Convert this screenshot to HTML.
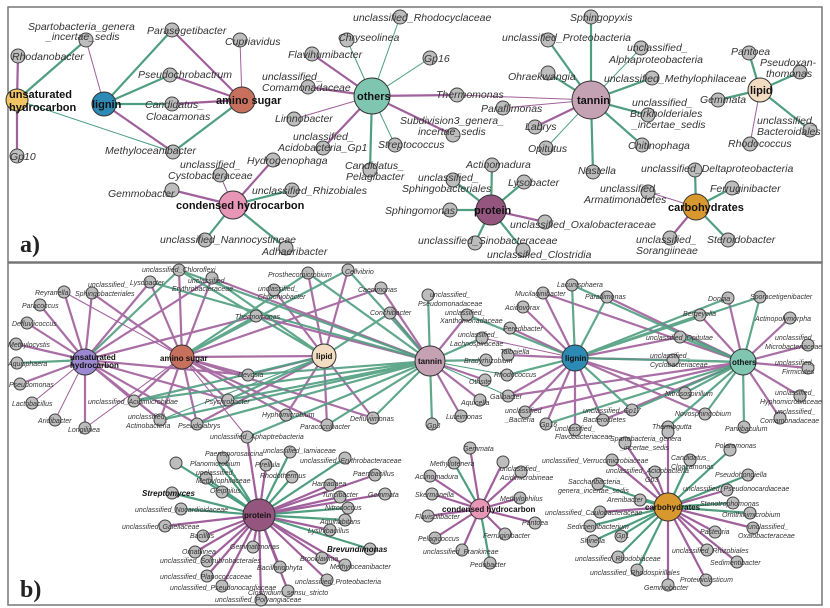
<!DOCTYPE html>
<html><head><meta charset="utf-8"><style>
body{margin:0;background:#fff;width:830px;height:608px;overflow:hidden}
svg{display:block}
.t{font-family:"Liberation Sans",sans-serif;font-style:italic;fill:#333}
.a{font-size:10.5px}.b{font-size:7px}
.h{font-family:"Liberation Sans",sans-serif;font-weight:bold;fill:#111}
.G{stroke:#4f9e80}.P{stroke:#a0609c}
.w1{stroke-width:1}.w2{stroke-width:2.2}
.n circle{fill:#bdbdbd;stroke:#444;stroke-width:1}
</style></head><body>
<svg width="830" height="608" viewBox="0 0 830 608">
<rect x="8" y="7" width="814" height="255" fill="none" stroke="#777" stroke-width="1.5"/>
<rect x="8" y="263" width="814" height="342" fill="none" stroke="#777" stroke-width="1.5"/>

<!-- PANEL A edges -->
<g class="P w2">
<line x1="17" y1="100" x2="18" y2="56"/><line x1="17" y1="100" x2="17" y2="156"/>
<line x1="104" y1="104" x2="173" y2="152"/>
<line x1="242" y1="100" x2="172" y2="30"/><line x1="242" y1="100" x2="170" y2="75"/><line x1="242" y1="100" x2="172" y2="104"/>
<line x1="372" y1="96" x2="312" y2="54"/><line x1="372" y1="96" x2="308" y2="87"/><line x1="372" y1="96" x2="323" y2="148"/><line x1="372" y1="96" x2="457" y2="95"/><line x1="372" y1="96" x2="453" y2="135"/>
<line x1="591" y1="100" x2="535" y2="127"/>
<line x1="233" y1="205" x2="273" y2="160"/><line x1="233" y1="205" x2="172" y2="190"/>
<line x1="491" y1="210" x2="545" y2="222"/><line x1="696" y1="207" x2="670" y2="238"/>
</g>
<g class="P w1">
<line x1="104" y1="104" x2="86" y2="40"/><line x1="242" y1="100" x2="240" y2="40"/>
<line x1="372" y1="96" x2="294" y2="119"/><line x1="591" y1="100" x2="457" y2="95"/><line x1="591" y1="100" x2="503" y2="108"/>
<line x1="760" y1="90" x2="750" y2="144"/><line x1="233" y1="205" x2="220" y2="175"/><line x1="696" y1="207" x2="648" y2="192"/>
</g>
<g class="G w2">
<line x1="17" y1="100" x2="86" y2="40"/>
<line x1="104" y1="104" x2="172" y2="30"/><line x1="104" y1="104" x2="170" y2="75"/><line x1="104" y1="104" x2="172" y2="104"/>
<line x1="242" y1="100" x2="173" y2="152"/>
<line x1="372" y1="96" x2="370" y2="170"/>
<line x1="591" y1="100" x2="591" y2="17"/><line x1="591" y1="100" x2="548" y2="40"/><line x1="591" y1="100" x2="548" y2="73"/><line x1="591" y1="100" x2="652" y2="78"/><line x1="591" y1="100" x2="593" y2="172"/><line x1="591" y1="100" x2="648" y2="115"/><line x1="591" y1="100" x2="642" y2="145"/>
<line x1="760" y1="90" x2="749" y2="53"/><line x1="760" y1="90" x2="800" y2="72"/><line x1="760" y1="90" x2="718" y2="100"/><line x1="760" y1="90" x2="810" y2="130"/>
<line x1="233" y1="205" x2="292" y2="190"/><line x1="233" y1="205" x2="205" y2="240"/><line x1="233" y1="205" x2="286" y2="248"/>
<line x1="491" y1="210" x2="492" y2="165"/><line x1="491" y1="210" x2="453" y2="180"/><line x1="491" y1="210" x2="524" y2="182"/><line x1="491" y1="210" x2="450" y2="210"/><line x1="491" y1="210" x2="475" y2="243"/><line x1="491" y1="210" x2="523" y2="250"/>
<line x1="696" y1="207" x2="695" y2="170"/><line x1="696" y1="207" x2="732" y2="188"/><line x1="696" y1="207" x2="728" y2="240"/>
</g>
<g class="G w1">
<line x1="17" y1="100" x2="173" y2="152"/>
<line x1="372" y1="96" x2="347" y2="40"/><line x1="372" y1="96" x2="400" y2="17"/><line x1="372" y1="96" x2="395" y2="145"/><line x1="372" y1="96" x2="430" y2="58"/>
<line x1="591" y1="100" x2="641" y2="48"/><line x1="591" y1="100" x2="546" y2="148"/>
</g>
<!-- PANEL A small nodes -->
<g class="n">
<circle cx="86" cy="40" r="7"/><circle cx="18" cy="56" r="7"/><circle cx="172" cy="30" r="7"/><circle cx="240" cy="40" r="7"/><circle cx="170" cy="75" r="7"/><circle cx="172" cy="104" r="7"/><circle cx="173" cy="152" r="7"/><circle cx="17" cy="156" r="7"/>
<circle cx="312" cy="54" r="7"/><circle cx="347" cy="40" r="7"/><circle cx="400" cy="17" r="7"/><circle cx="308" cy="87" r="7"/><circle cx="294" cy="119" r="7"/><circle cx="323" cy="148" r="7"/><circle cx="395" cy="145" r="7"/><circle cx="370" cy="170" r="7"/><circle cx="430" cy="58" r="7"/><circle cx="457" cy="95" r="7"/><circle cx="453" cy="135" r="7"/>
<circle cx="273" cy="160" r="7"/><circle cx="220" cy="175" r="7"/><circle cx="172" cy="190" r="7"/><circle cx="292" cy="190" r="7"/><circle cx="205" cy="240" r="7"/><circle cx="286" cy="248" r="7"/>
<circle cx="591" cy="17" r="7"/><circle cx="548" cy="40" r="7"/><circle cx="641" cy="48" r="7"/><circle cx="548" cy="73" r="7"/><circle cx="652" cy="78" r="7"/><circle cx="503" cy="108" r="7"/><circle cx="535" cy="127" r="7"/><circle cx="546" cy="148" r="7"/><circle cx="593" cy="172" r="7"/><circle cx="648" cy="115" r="7"/><circle cx="642" cy="145" r="7"/>
<circle cx="749" cy="53" r="7"/><circle cx="800" cy="72" r="7"/><circle cx="718" cy="100" r="7"/><circle cx="810" cy="130" r="7"/><circle cx="750" cy="144" r="7"/>
<circle cx="695" cy="170" r="7"/><circle cx="732" cy="188" r="7"/><circle cx="648" cy="192" r="7"/><circle cx="728" cy="240" r="7"/><circle cx="670" cy="238" r="7"/>
<circle cx="492" cy="165" r="7"/><circle cx="453" cy="180" r="7"/><circle cx="524" cy="182" r="7"/><circle cx="450" cy="210" r="7"/><circle cx="545" cy="222" r="7"/><circle cx="475" cy="243" r="7"/><circle cx="523" cy="250" r="7"/>
</g>
<!-- PANEL A hubs -->
<g stroke="#333" stroke-width="1">
<circle cx="17" cy="100" r="11" fill="#f0c462"/><circle cx="104" cy="104" r="12" fill="#2c8ab4"/><circle cx="242" cy="100" r="13" fill="#c8705e"/><circle cx="372" cy="96" r="18" fill="#7fc5b0"/><circle cx="233" cy="205" r="14" fill="#e896b6"/><circle cx="591" cy="100" r="19" fill="#c4a2b4"/><circle cx="760" cy="90" r="12" fill="#f2dcc2"/><circle cx="491" cy="210" r="15" fill="#94567f"/><circle cx="696" cy="207" r="13" fill="#d8982e"/>
</g>
<g class="t a">
<text x="28" y="30">Spartobacteria_genera</text><text x="46" y="40">_incertae_sedis</text>
<text x="12" y="60">Rhodanobacter</text><text x="147" y="34">Parasegetibacter</text><text x="225" y="45">Cupriavidus</text>
<text x="138" y="78">Pseudochrobactrum</text><text x="145" y="108">Candidatus_</text><text x="146" y="120">Cloacamonas</text>
<text x="105" y="154">Methyloceanibacter</text><text x="10" y="160">Gp10</text>
<text x="288" y="58">Flavihumibacter</text><text x="338" y="41">Chryseolinea</text><text x="353" y="21">unclassified_Rhodocyclaceae</text>
<text x="262" y="80">unclassified_</text><text x="262" y="91">Comamonadaceae</text><text x="275" y="122">Limnobacter</text>
<text x="293" y="140">unclassified_</text><text x="278" y="151">Acidobacteria_Gp1</text><text x="378" y="148">Streptococcus</text>
<text x="345" y="169">Candidatus_</text><text x="346" y="180">Pelagibacter</text><text x="424" y="62">Gp16</text>
<text x="436" y="98">Thermomonas</text><text x="481" y="112">Paraflimonas</text><text x="400" y="124">Subdivision3_genera_</text><text x="418" y="135">incertae_sedis</text>
<text x="247" y="164">Hydrogenophaga</text><text x="180" y="168">unclassified_</text><text x="168" y="179">Cystobacteraceae</text>
<text x="108" y="197">Gemmobacter</text><text x="252" y="194">unclassified_Rhizobiales</text><text x="160" y="243">unclassified_Nannocystineae</text><text x="262" y="255">Adhaeribacter</text>
<text x="570" y="21">Sphingopyxis</text><text x="502" y="41">unclassified_Proteobacteria</text><text x="627" y="51">unclassified_</text><text x="609" y="63">Alphaproteobacteria</text>
<text x="508" y="80">Ohraekwangia</text><text x="604" y="82">unclassified_Methylophilaceae</text><text x="525" y="130">Labrys</text><text x="528" y="152">Opitutus</text>
<text x="578" y="174">Nastella</text><text x="632" y="106">unclassified_</text><text x="630" y="117">Burkholderiales</text><text x="632" y="128">_incertae_sedis</text>
<text x="628" y="149">Chitinophaga</text><text x="731" y="55">Pantoea</text><text x="760" y="66">Pseudoxan-</text><text x="766" y="77">thomonas</text>
<text x="700" y="103">Gemmata</text><text x="757" y="124">unclassified_</text><text x="757" y="135">Bacteroidales</text><text x="728" y="147">Rhodococcus</text>
<text x="641" y="172">unclassified_Deltaproteobacteria</text><text x="710" y="192">Ferruginibacter</text><text x="600" y="192">unclassified_</text><text x="584" y="203">Armatimonadetes</text>
<text x="707" y="243">Steroidobacter</text><text x="636" y="243">unclassified_</text><text x="636" y="254">Sorangiineae</text>
<text x="466" y="168">Actinomadura</text><text x="418" y="181">unclassified_</text><text x="402" y="192">Sphingobacteriales</text><text x="508" y="186">Lysobacter</text>
<text x="385" y="214">Sphingomonas</text><text x="510" y="228">unclassified_Oxalobacteraceae</text><text x="418" y="244">unclassified_Sinobacteraceae</text><text x="487" y="258">unclassified_Clostridia</text>
</g>
<g class="h" font-size="11">
<text x="9" y="98">unsaturated</text><text x="9" y="111">hydrocarbon</text><text x="92" y="108">lignin</text><text x="216" y="104">amino sugar</text><text x="357" y="100">others</text>
<text x="176" y="209">condensed hydrocarbon</text><text x="577" y="104">tannin</text><text x="750" y="94">lipid</text><text x="474" y="214">protein</text><text x="668" y="211">carbohydrates</text>
</g>
<text x="20" y="252" font-family="Liberation Serif,serif" font-weight="bold" font-size="24" fill="#222">a)</text>

<!-- PANEL B edges: top clusters -->
<g class="P w2" opacity="0.9">
<line x1="85" y1="360" x2="64" y2="292"/><line x1="85" y1="360" x2="40" y2="305"/><line x1="85" y1="360" x2="27" y2="323"/><line x1="85" y1="360" x2="16" y2="344"/><line x1="85" y1="360" x2="20" y2="384"/><line x1="85" y1="360" x2="134" y2="401"/><line x1="85" y1="360" x2="160" y2="420"/><line x1="85" y1="360" x2="92" y2="293"/><line x1="85" y1="360" x2="150" y2="282"/><line x1="85" y1="360" x2="212" y2="278"/><line x1="85" y1="360" x2="256" y2="316"/><line x1="85" y1="360" x2="248" y2="375"/><line x1="85" y1="360" x2="228" y2="400"/><line x1="85" y1="360" x2="197" y2="424"/><line x1="85" y1="360" x2="85" y2="428"/>
<line x1="182" y1="357" x2="179" y2="270"/><line x1="182" y1="357" x2="150" y2="282"/><line x1="182" y1="357" x2="92" y2="293"/><line x1="182" y1="357" x2="212" y2="278"/><line x1="182" y1="357" x2="248" y2="375"/><line x1="182" y1="357" x2="228" y2="400"/><line x1="182" y1="357" x2="197" y2="424"/><line x1="182" y1="357" x2="160" y2="420"/><line x1="182" y1="357" x2="134" y2="401"/><line x1="182" y1="357" x2="286" y2="415"/><line x1="182" y1="357" x2="327" y2="425"/><line x1="182" y1="357" x2="373" y2="418"/><line x1="182" y1="357" x2="381" y2="288"/>
<line x1="324" y1="356" x2="308" y2="273"/><line x1="324" y1="356" x2="348" y2="270"/><line x1="324" y1="356" x2="274" y2="290"/><line x1="324" y1="356" x2="248" y2="375"/><line x1="324" y1="356" x2="286" y2="415"/><line x1="324" y1="356" x2="327" y2="425"/><line x1="324" y1="356" x2="373" y2="418"/><line x1="324" y1="356" x2="182" y2="357"/><line x1="324" y1="356" x2="197" y2="424"/>
<line x1="430" y1="361" x2="381" y2="288"/><line x1="430" y1="361" x2="390" y2="313"/><line x1="430" y1="361" x2="467" y2="315"/><line x1="430" y1="361" x2="485" y2="380"/><line x1="430" y1="361" x2="480" y2="400"/><line x1="430" y1="361" x2="461" y2="416"/><line x1="430" y1="361" x2="212" y2="278"/><line x1="430" y1="361" x2="256" y2="316"/>
<line x1="575" y1="358" x2="543" y2="293"/><line x1="575" y1="358" x2="523" y2="307"/><line x1="575" y1="358" x2="510" y2="328"/><line x1="575" y1="358" x2="508" y2="355"/><line x1="575" y1="358" x2="508" y2="396"/><line x1="575" y1="358" x2="525" y2="412"/><line x1="575" y1="358" x2="546" y2="424"/><line x1="575" y1="358" x2="603" y2="420"/><line x1="575" y1="358" x2="575" y2="430"/><line x1="575" y1="358" x2="680" y2="337"/><line x1="575" y1="358" x2="673" y2="360"/><line x1="575" y1="358" x2="685" y2="393"/><line x1="575" y1="358" x2="705" y2="414"/>
<line x1="743" y1="362" x2="728" y2="298"/><line x1="743" y1="362" x2="700" y2="315"/><line x1="743" y1="362" x2="790" y2="318"/><line x1="743" y1="362" x2="808" y2="345"/><line x1="743" y1="362" x2="808" y2="368"/><line x1="743" y1="362" x2="800" y2="396"/><line x1="743" y1="362" x2="780" y2="418"/><line x1="743" y1="362" x2="543" y2="293"/><line x1="743" y1="362" x2="607" y2="297"/><line x1="743" y1="362" x2="525" y2="412"/><line x1="743" y1="362" x2="508" y2="396"/><line x1="743" y1="362" x2="603" y2="420"/>
</g>
<g class="G w2" opacity="0.9">
<line x1="85" y1="360" x2="17" y2="363"/><line x1="85" y1="360" x2="179" y2="270"/>
<line x1="182" y1="357" x2="256" y2="316"/><line x1="182" y1="357" x2="308" y2="273"/><line x1="182" y1="357" x2="348" y2="270"/>
<line x1="324" y1="356" x2="179" y2="270"/><line x1="324" y1="356" x2="212" y2="278"/><line x1="324" y1="356" x2="228" y2="400"/><line x1="324" y1="356" x2="134" y2="401"/><line x1="324" y1="356" x2="390" y2="313"/>
<line x1="430" y1="361" x2="179" y2="270"/><line x1="430" y1="361" x2="150" y2="282"/><line x1="430" y1="361" x2="308" y2="273"/><line x1="430" y1="361" x2="348" y2="270"/><line x1="430" y1="361" x2="428" y2="295"/><line x1="430" y1="361" x2="482" y2="338"/><line x1="430" y1="361" x2="486" y2="360"/><line x1="430" y1="361" x2="432" y2="424"/><line x1="430" y1="361" x2="228" y2="400"/><line x1="430" y1="361" x2="134" y2="401"/><line x1="430" y1="361" x2="160" y2="420"/><line x1="430" y1="361" x2="197" y2="424"/><line x1="430" y1="361" x2="247" y2="437"/><line x1="430" y1="361" x2="373" y2="418"/><line x1="430" y1="361" x2="248" y2="375"/><line x1="430" y1="361" x2="327" y2="425"/>
<line x1="575" y1="358" x2="572" y2="285"/><line x1="575" y1="358" x2="607" y2="297"/><line x1="575" y1="358" x2="507" y2="375"/><line x1="575" y1="358" x2="632" y2="410"/><line x1="575" y1="358" x2="728" y2="298"/><line x1="575" y1="358" x2="760" y2="297"/><line x1="575" y1="358" x2="700" y2="315"/><line x1="575" y1="358" x2="467" y2="315"/><line x1="575" y1="358" x2="743" y2="362"/>
<line x1="743" y1="362" x2="760" y2="297"/><line x1="743" y1="362" x2="680" y2="337"/><line x1="743" y1="362" x2="673" y2="360"/><line x1="743" y1="362" x2="744" y2="427"/><line x1="743" y1="362" x2="685" y2="393"/><line x1="743" y1="362" x2="705" y2="414"/><line x1="743" y1="362" x2="668" y2="427"/><line x1="743" y1="362" x2="632" y2="410"/><line x1="743" y1="362" x2="546" y2="424"/><line x1="743" y1="362" x2="572" y2="285"/>
</g>
<g class="P w1">
<line x1="85" y1="360" x2="32" y2="403"/><line x1="85" y1="360" x2="55" y2="420"/><line x1="182" y1="357" x2="247" y2="437"/><line x1="182" y1="357" x2="85" y2="428"/><line x1="182" y1="357" x2="64" y2="292"/>
<line x1="575" y1="358" x2="482" y2="338"/>
</g>
<g class="G w1">
<line x1="324" y1="356" x2="160" y2="420"/><line x1="430" y1="361" x2="507" y2="375"/><line x1="430" y1="361" x2="508" y2="396"/><line x1="430" y1="361" x2="390" y2="313"/>
</g>
<!-- protein / condensed / carbo edges -->
<g class="G w2">
<line x1="259" y1="515" x2="176" y2="463"/><line x1="259" y1="515" x2="223" y2="458"/><line x1="259" y1="515" x2="218" y2="463"/><line x1="259" y1="515" x2="206" y2="478"/><line x1="259" y1="515" x2="172" y2="493"/><line x1="259" y1="515" x2="222" y2="492"/><line x1="259" y1="515" x2="181" y2="509"/><line x1="259" y1="515" x2="290" y2="452"/><line x1="259" y1="515" x2="345" y2="458"/><line x1="259" y1="515" x2="292" y2="477"/><line x1="259" y1="515" x2="348" y2="508"/><line x1="259" y1="515" x2="370" y2="549"/><line x1="259" y1="515" x2="345" y2="520"/>
<line x1="480" y1="509" x2="454" y2="463"/><line x1="480" y1="509" x2="490" y2="563"/>
<line x1="668" y1="507" x2="730" y2="450"/><line x1="668" y1="507" x2="690" y2="460"/><line x1="668" y1="507" x2="748" y2="475"/><line x1="668" y1="507" x2="598" y2="484"/><line x1="668" y1="507" x2="640" y2="500"/><line x1="668" y1="507" x2="750" y2="513"/><line x1="668" y1="507" x2="590" y2="526"/><line x1="668" y1="507" x2="593" y2="541"/><line x1="668" y1="507" x2="621" y2="536"/><line x1="668" y1="507" x2="618" y2="557"/><line x1="668" y1="507" x2="637" y2="570"/><line x1="668" y1="507" x2="733" y2="503"/>
</g>
<g class="P w2">
<line x1="259" y1="515" x2="266" y2="465"/><line x1="259" y1="515" x2="375" y2="475"/><line x1="259" y1="515" x2="330" y2="485"/><line x1="259" y1="515" x2="340" y2="497"/><line x1="259" y1="515" x2="385" y2="494"/><line x1="259" y1="515" x2="165" y2="526"/><line x1="259" y1="515" x2="203" y2="536"/><line x1="259" y1="515" x2="330" y2="530"/><line x1="259" y1="515" x2="253" y2="547"/><line x1="259" y1="515" x2="195" y2="552"/><line x1="259" y1="515" x2="207" y2="561"/><line x1="259" y1="515" x2="322" y2="558"/><line x1="259" y1="515" x2="345" y2="565"/><line x1="259" y1="515" x2="280" y2="567"/><line x1="259" y1="515" x2="207" y2="576"/><line x1="259" y1="515" x2="327" y2="580"/><line x1="259" y1="515" x2="222" y2="586"/><line x1="259" y1="515" x2="288" y2="591"/><line x1="259" y1="515" x2="261" y2="600"/><line x1="259" y1="515" x2="247" y2="437"/>
<line x1="480" y1="509" x2="470" y2="448"/><line x1="480" y1="509" x2="503" y2="462"/><line x1="480" y1="509" x2="521" y2="472"/><line x1="480" y1="509" x2="430" y2="476"/><line x1="480" y1="509" x2="520" y2="498"/><line x1="480" y1="509" x2="432" y2="494"/><line x1="480" y1="509" x2="428" y2="516"/><line x1="480" y1="509" x2="535" y2="523"/><line x1="480" y1="509" x2="435" y2="538"/><line x1="480" y1="509" x2="505" y2="534"/><line x1="480" y1="509" x2="462" y2="550"/>
<line x1="668" y1="507" x2="668" y2="432"/><line x1="668" y1="507" x2="625" y2="443"/><line x1="668" y1="507" x2="612" y2="460"/><line x1="668" y1="507" x2="655" y2="472"/><line x1="668" y1="507" x2="727" y2="490"/><line x1="668" y1="507" x2="600" y2="512"/><line x1="668" y1="507" x2="715" y2="532"/><line x1="668" y1="507" x2="753" y2="528"/><line x1="668" y1="507" x2="707" y2="550"/><line x1="668" y1="507" x2="737" y2="562"/><line x1="668" y1="507" x2="706" y2="580"/><line x1="668" y1="507" x2="668" y2="585"/>
</g>
<!-- PANEL B small nodes -->
<g class="n">
<circle cx="179" cy="270" r="6"/><circle cx="212" cy="278" r="6"/><circle cx="150" cy="282" r="6"/><circle cx="92" cy="293" r="6"/><circle cx="64" cy="292" r="6"/><circle cx="40" cy="305" r="6"/><circle cx="27" cy="323" r="6"/><circle cx="16" cy="344" r="6"/><circle cx="17" cy="363" r="6"/><circle cx="20" cy="384" r="6"/><circle cx="32" cy="403" r="6"/><circle cx="55" cy="420" r="6"/><circle cx="85" cy="428" r="6"/><circle cx="134" cy="401" r="6"/><circle cx="160" cy="420" r="6"/><circle cx="197" cy="424" r="6"/><circle cx="228" cy="400" r="6"/><circle cx="248" cy="375" r="6"/><circle cx="256" cy="316" r="6"/>
<circle cx="308" cy="273" r="6"/><circle cx="348" cy="270" r="6"/><circle cx="274" cy="290" r="6"/><circle cx="381" cy="288" r="6"/><circle cx="390" cy="313" r="6"/><circle cx="286" cy="415" r="6"/><circle cx="327" cy="425" r="6"/><circle cx="373" cy="418" r="6"/><circle cx="247" cy="437" r="6"/>
<circle cx="428" cy="295" r="6"/><circle cx="467" cy="315" r="6"/><circle cx="482" cy="338" r="6"/><circle cx="486" cy="360" r="6"/><circle cx="485" cy="380" r="6"/><circle cx="480" cy="400" r="6"/><circle cx="461" cy="416" r="6"/><circle cx="432" cy="424" r="6"/><circle cx="507" cy="375" r="6"/><circle cx="508" cy="396" r="6"/><circle cx="508" cy="355" r="6"/><circle cx="510" cy="328" r="6"/><circle cx="523" cy="307" r="6"/><circle cx="543" cy="293" r="6"/><circle cx="572" cy="285" r="6"/><circle cx="607" cy="297" r="6"/>
<circle cx="728" cy="298" r="6"/><circle cx="760" cy="297" r="6"/><circle cx="700" cy="315" r="6"/><circle cx="790" cy="318" r="6"/><circle cx="680" cy="337" r="6"/><circle cx="808" cy="345" r="6"/><circle cx="673" cy="360" r="6"/><circle cx="808" cy="368" r="6"/><circle cx="685" cy="393" r="6"/><circle cx="800" cy="396" r="6"/><circle cx="705" cy="414" r="6"/><circle cx="780" cy="418" r="6"/><circle cx="744" cy="427" r="6"/><circle cx="668" cy="427" r="6"/><circle cx="525" cy="412" r="6"/><circle cx="546" cy="424" r="6"/><circle cx="603" cy="420" r="6"/><circle cx="632" cy="410" r="6"/><circle cx="575" cy="430" r="6"/>
<circle cx="176" cy="463" r="6"/><circle cx="223" cy="458" r="6"/><circle cx="266" cy="465" r="6"/><circle cx="290" cy="452" r="6"/><circle cx="345" cy="458" r="6"/><circle cx="375" cy="475" r="6"/><circle cx="292" cy="477" r="6"/><circle cx="206" cy="478" r="6"/><circle cx="330" cy="485" r="6"/><circle cx="172" cy="493" r="6"/><circle cx="222" cy="492" r="6"/><circle cx="340" cy="497" r="6"/><circle cx="385" cy="494" r="6"/><circle cx="181" cy="509" r="6"/><circle cx="348" cy="508" r="6"/><circle cx="165" cy="526" r="6"/><circle cx="345" cy="520" r="6"/><circle cx="203" cy="536" r="6"/><circle cx="330" cy="530" r="6"/><circle cx="253" cy="547" r="6"/><circle cx="370" cy="549" r="6"/><circle cx="195" cy="552" r="6"/><circle cx="207" cy="561" r="6"/><circle cx="322" cy="558" r="6"/><circle cx="345" cy="565" r="6"/><circle cx="280" cy="567" r="6"/><circle cx="207" cy="576" r="6"/><circle cx="327" cy="580" r="6"/><circle cx="222" cy="586" r="6"/><circle cx="288" cy="591" r="6"/><circle cx="261" cy="600" r="6"/>
<circle cx="470" cy="448" r="6"/><circle cx="454" cy="463" r="6"/><circle cx="503" cy="462" r="6"/><circle cx="521" cy="472" r="6"/><circle cx="430" cy="476" r="6"/><circle cx="520" cy="498" r="6"/><circle cx="432" cy="494" r="6"/><circle cx="428" cy="516" r="6"/><circle cx="535" cy="523" r="6"/><circle cx="435" cy="538" r="6"/><circle cx="505" cy="534" r="6"/><circle cx="462" cy="550" r="6"/><circle cx="490" cy="563" r="6"/>
<circle cx="625" cy="443" r="6"/><circle cx="668" cy="432" r="6"/><circle cx="730" cy="450" r="6"/><circle cx="690" cy="460" r="6"/><circle cx="612" cy="460" r="6"/><circle cx="655" cy="472" r="6"/><circle cx="748" cy="475" r="6"/><circle cx="598" cy="484" r="6"/><circle cx="727" cy="490" r="6"/><circle cx="640" cy="500" r="6"/><circle cx="733" cy="503" r="6"/><circle cx="600" cy="512" r="6"/><circle cx="750" cy="513" r="6"/><circle cx="590" cy="526" r="6"/><circle cx="621" cy="536" r="6"/><circle cx="593" cy="541" r="6"/><circle cx="715" cy="532" r="6"/><circle cx="753" cy="528" r="6"/><circle cx="707" cy="550" r="6"/><circle cx="737" cy="562" r="6"/><circle cx="618" cy="557" r="6"/><circle cx="637" cy="570" r="6"/><circle cx="706" cy="580" r="6"/><circle cx="668" cy="585" r="6"/>
</g>
<!-- PANEL B hubs -->
<g stroke="#333" stroke-width="1">
<circle cx="85" cy="362" r="13" fill="#9c88d0"/><circle cx="182" cy="357" r="12" fill="#c8705e"/><circle cx="324" cy="356" r="12" fill="#f2dcc2"/><circle cx="430" cy="361" r="15" fill="#c4a2b4"/><circle cx="575" cy="358" r="13" fill="#2c8ab4"/><circle cx="743" cy="362" r="13" fill="#7fc5b0"/>
<circle cx="259" cy="515" r="16" fill="#94567f"/><circle cx="480" cy="509" r="10" fill="#e896b6"/><circle cx="668" cy="507" r="14" fill="#d8982e"/>
</g>
<g class="t b">
<text x="142" y="272">unclassified_Chloroflexi</text><text x="188" y="283">unclassified_</text><text x="172" y="291">Erythrobacteraceae</text><text x="130" y="285">Lysobacter</text>
<text x="88" y="287">unclassified_</text><text x="75" y="296">Sphingobacteriales</text><text x="35" y="295">Reyranella</text><text x="22" y="308">Paracoccus</text><text x="12" y="326">Defluviicoccus</text><text x="8" y="347">Methylocystis</text><text x="8" y="366">Aquisphaera</text><text x="9" y="387">Pseudomonas</text><text x="12" y="406">Lactobacillus</text><text x="38" y="423">Aridibacter</text><text x="68" y="432">Longilinea</text>
<text x="88" y="404">unclassified_Acidimicrobidae</text><text x="128" y="419">unclassified_</text><text x="126" y="428">Actinobacteria</text><text x="178" y="428">Pseudolabrys</text><text x="205" y="404">Psychrobacter</text><text x="238" y="377">Devosia</text><text x="235" y="319">Thermomonas</text>
<text x="268" y="277">Prosthecomicrobium</text><text x="345" y="274">Cellvibrio</text><text x="258" y="291">unclassified_</text><text x="258" y="299">Chthoniobacter</text><text x="358" y="292">Caenimonas</text><text x="370" y="315">Conchibacter</text>
<text x="262" y="417">Hyphomicrobium</text><text x="300" y="429">Paracoccibacter</text><text x="350" y="421">Defluviimonas</text><text x="210" y="439">unclassified_Aphaptrebacteria</text>
<text x="430" y="297">unclassified_</text><text x="418" y="306">Pseudomonadaceae</text><text x="445" y="315">unclassified_</text><text x="440" y="323">Xanthomonadaceae</text><text x="458" y="337">unclassified_</text><text x="450" y="346">Lachnospiraceae</text>
<text x="464" y="363">Bradyrhizobium</text><text x="469" y="384">Othsite</text><text x="461" y="405">Aquicella</text><text x="446" y="419">Luteimonas</text><text x="427" y="428">Gp3</text>
<text x="494" y="377">Rhodococcus</text><text x="490" y="399">Galibacter</text><text x="500" y="354">Taibaiella</text><text x="503" y="331">Peredibacter</text><text x="505" y="310">Acidovorax</text><text x="515" y="296">Mucilaginibacter</text><text x="557" y="287">Lacunisphaera</text><text x="585" y="299">Paraflimonas</text>
<text x="708" y="301">Dongia</text><text x="750" y="299">Sporacetigenibacter</text><text x="683" y="316">Bergeyella</text><text x="755" y="321">Actinopolymorpha</text><text x="646" y="340">unclassified_Opitutae</text>
<text x="775" y="340">unclassified_</text><text x="765" y="349">Microbacteriaceae</text><text x="650" y="358">unclassified_</text><text x="650" y="367">Cyclobacteriaceae</text><text x="775" y="365">unclassified_</text><text x="782" y="374">Firmicutes</text>
<text x="665" y="396">Nitrosospirillum</text><text x="775" y="395">unclassified_</text><text x="760" y="404">Hyphomicrobiaceae</text><text x="675" y="416">Novosphingobium</text><text x="775" y="414">unclassified_</text><text x="760" y="423">Comamonadaceae</text><text x="725" y="431">Parvibaculum</text><text x="652" y="429">Thermogutta</text>
<text x="505" y="413">unclassified</text><text x="505" y="422">_Bacteria</text><text x="540" y="427">Gp16</text><text x="583" y="413">unclassified_Gp17</text><text x="583" y="422">Bacteroidetes</text><text x="555" y="431">unclassified_</text><text x="555" y="439">Flavobacteriaceae</text>
<text x="205" y="456">Paenisporosarcina</text><text x="190" y="466">Planomicrobium</text><text x="255" y="467">Pirellula</text><text x="263" y="453">unclassified_Iamiaceae</text><text x="300" y="463">unclassified_Erythrobacteraceae</text><text x="353" y="476">Paenibacillus</text><text x="260" y="478">Rhodothermus</text>
<text x="196" y="475">unclassified_</text><text x="196" y="483">Methylophilaceae</text><text x="312" y="486">Hamadaea</text><text x="210" y="493">Oleiphilus</text><text x="322" y="497">Turicibacter</text><text x="368" y="497">Gemmata</text>
<text x="135" y="512">unclassified_Nocardioidaceae</text><text x="325" y="510">Nitrococcus</text><text x="122" y="529">unclassified_Gaiellaceae</text><text x="320" y="524">Aquihabitans</text><text x="190" y="538">Bacillus</text><text x="308" y="533">Lysinibacillus</text><text x="230" y="549">Gemmatimonas</text>
<text x="182" y="554">Ornatilinea</text><text x="160" y="563">unclassified_Solirubrobacterales</text><text x="300" y="561">Brooklawnia</text><text x="330" y="569">Methyloceanibacter</text><text x="257" y="570">Bacillariophyta</text><text x="160" y="579">unclassified_Planococcaceae</text><text x="295" y="584">unclassified_Proteobacteria</text><text x="170" y="590">unclassified_Pseudonocardiaceae</text><text x="248" y="595">Clostridium_sensu_stricto</text><text x="215" y="602">unclassified_Polyangiaceae</text>
<text x="463" y="451">Gemmata</text><text x="430" y="466">Methylotenera</text><text x="500" y="471">unclassified_</text><text x="500" y="480">Acidimicrobineae</text><text x="415" y="479">Actinomadura</text><text x="500" y="501">Methylophilus</text><text x="415" y="497">Skermanella</text><text x="415" y="519">Flavisolibacter</text><text x="522" y="525">Pantoea</text><text x="418" y="541">Pelagicoccus</text><text x="483" y="538">Ferruginibacter</text><text x="423" y="554">unclassified_Frankineae</text><text x="470" y="567">Pedobacter</text>
<text x="610" y="441">Spartobacteria_genera</text><text x="620" y="450">_incertae_sedis</text><text x="715" y="448">Polaromonas</text><text x="671" y="460">Candidatus_</text><text x="671" y="469">Cloacamonas</text><text x="542" y="463">unclassified_Verrucomicrobiaceae</text><text x="606" y="473">unclassified_Acidobacteria</text><text x="645" y="482">Gp3</text>
<text x="715" y="477">Pseudohongiella</text><text x="568" y="484">Saccharibacteria_</text><text x="558" y="493">genera_incertae_sedis</text><text x="683" y="491">unclassified_Pseudonocardiaceae</text><text x="607" y="502">Arenibacter</text><text x="700" y="506">Stenotrophomonas</text><text x="545" y="515">unclassified_Caulobacteraceae</text><text x="722" y="517">Ornithinimicrobium</text>
<text x="567" y="529">Sedimentibacterium</text><text x="616" y="538">Gp1</text><text x="580" y="543">Shinella</text><text x="700" y="534">Pasteuria</text><text x="748" y="529">unclassified_</text><text x="738" y="538">Oxalobacteraceae</text><text x="672" y="553">unclassified_Rhizobiales</text><text x="710" y="565">Sedimentibacter</text><text x="575" y="561">unclassified_Rhodobiaceae</text><text x="590" y="575">unclassified_Rhodospirillales</text><text x="680" y="582">Proteiniclasticum</text><text x="644" y="590">Gemmobacter</text>
</g>
<g class="h" font-size="8">
<text x="70" y="360">unsaturated</text><text x="70" y="368">hydrocarbon</text><text x="160" y="361">amino sugar</text><text x="316" y="359">lipid</text><text x="418" y="364">tannin</text><text x="565" y="361">lignin</text><text x="732" y="365">others</text>
<text x="244" y="518">protein</text><text x="442" y="512">condensed hydrocarbon</text><text x="645" y="510">carbohydrates</text>
<text x="142" y="496" font-style="italic">Streptomyces</text><text x="327" y="552" font-style="italic">Brevundimonas</text>
</g>
<text x="20" y="597" font-family="Liberation Serif,serif" font-weight="bold" font-size="24" fill="#222">b)</text>
</svg>
</body></html>
